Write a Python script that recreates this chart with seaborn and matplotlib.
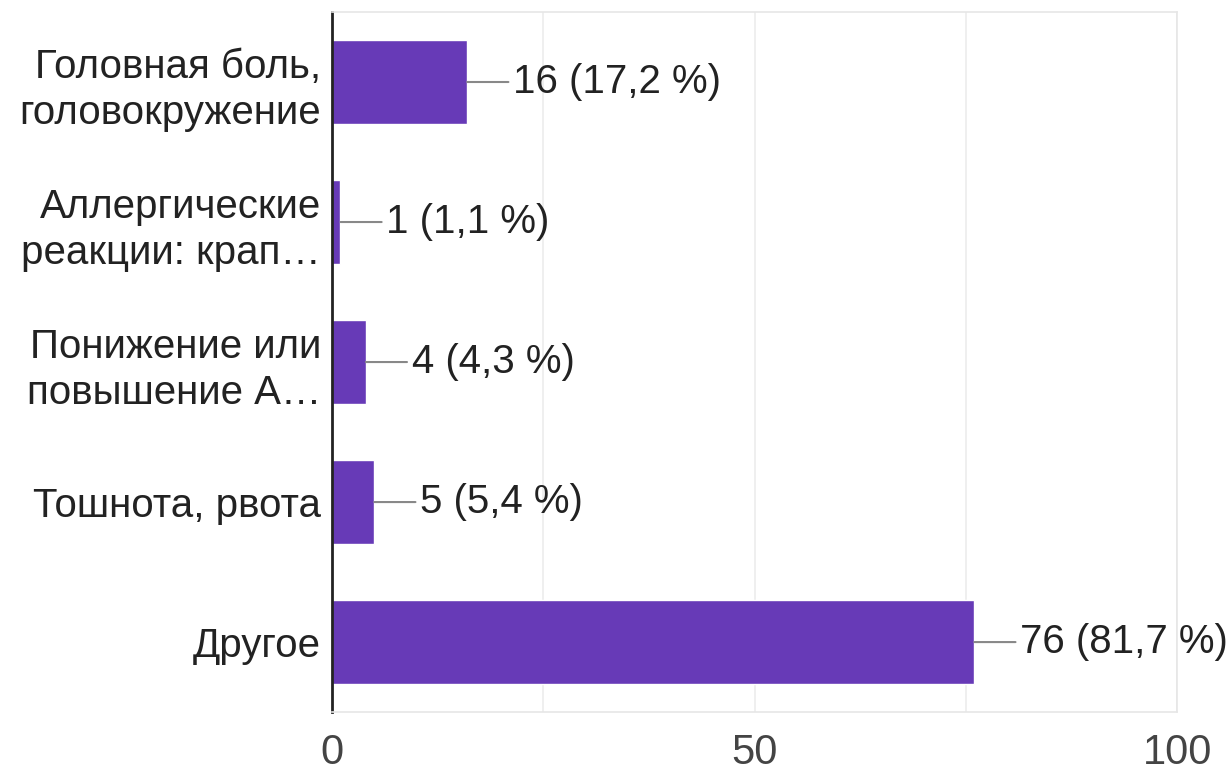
import matplotlib.pyplot as plt
import seaborn as sns
import pandas as pd
from matplotlib.ticker import MultipleLocator

sns.set_theme(style="white")
plt.rcParams['font.family'] = ['Liberation Sans', 'DejaVu Sans']

# Data
categories = ['Головная боль,\nголовокружение', 'Аллергические\nреакции: крап…',
              'Понижение или\nповышение А…', 'Тошнота, рвота', 'Другое']
counts = [16, 1, 4, 5, 76]
percents = ['17,2', '1,1', '4,3', '5,4', '81,7']

df = pd.DataFrame({'Category': categories, 'Count': counts})

fig = plt.figure(figsize=(12.32, 7.74), dpi=100)
ax = fig.add_axes([0.2695, 0.080, 0.686, 0.9045])

sns.barplot(data=df, y='Category', x='Count', color='#673ab7', saturation=1,
            width=0.6, ax=ax, orient='h')

ax.set_xlim(0, 100)
ax.set_ylim(4.5, -0.5)
ax.xaxis.set_major_locator(MultipleLocator(50))
ax.xaxis.set_minor_locator(MultipleLocator(25))
ax.grid(axis='x', which='both', color='#ececec', linewidth=1.2)
ax.set_axisbelow(True)
ax.set_xlabel('')
ax.set_ylabel('')

# Frame: dark left axis, light gray elsewhere
for side in ['top', 'bottom', 'right']:
    ax.spines[side].set_color('#e6e6e6')
    ax.spines[side].set_linewidth(1.2)
ax.spines['left'].set_color('#222222')
ax.spines['left'].set_linewidth(2)

ax.tick_params(axis='x', which='both', length=0, pad=15, labelsize=30, labelcolor='#444444')
ax.tick_params(axis='y', length=0, pad=8, labelsize=29, labelcolor='#222222')
for lbl in ax.get_yticklabels():
    lbl.set_horizontalalignment('right')
    lbl.set_linespacing(1.25)

# Value labels with leader lines
for i, (c, p) in enumerate(zip(counts, percents)):
    ax.annotate(f'{c} ({p} %)', xy=(c, i), xytext=(33, 0), textcoords='offset points',
                ha='left', va='center', fontsize=29, color='#222222',
                arrowprops=dict(arrowstyle='-', color='#888888', lw=1.5,
                                shrinkA=1, shrinkB=0),
                annotation_clip=False)

fig.savefig('out.png', dpi=100)
